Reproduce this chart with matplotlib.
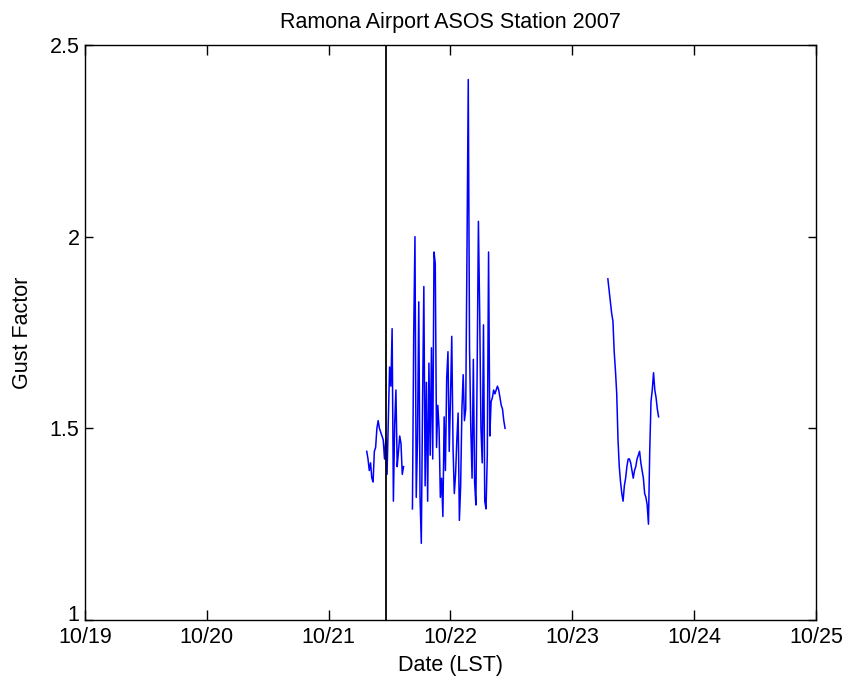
import numpy as np
import matplotlib
matplotlib.use("Agg")
import matplotlib.pyplot as plt
import matplotlib.dates as mdates
import matplotlib.transforms as mtransforms
from datetime import datetime, timedelta

plt.rcParams['font.family'] = ['Liberation Sans', 'DejaVu Sans']

# Gust factor, 15-minute samples (NaN = missing report)
start_1 = datetime(2007, 10, 21, 7, 30)
gust_1 = [
    1.44, 1.42, 1.39, 1.41, 1.37, 1.36, 1.44, 1.45, 1.50, 1.52,
    1.50, 1.49, 1.48, 1.47, 1.42, 1.47, 1.38, 1.52, 1.66, 1.61,
    1.76, 1.31, 1.51, 1.60, 1.40, 1.44, 1.48, 1.46, 1.38, 1.40,
    np.nan, np.nan, np.nan, np.nan, np.nan, np.nan,
    1.29, 1.74, 2.00, 1.32, 1.47, 1.83, 1.32, 1.20, 1.57, 1.87,
    1.35, 1.62, 1.31, 1.67, 1.43, 1.71, 1.42, 1.96, 1.93, 1.45,
    1.56, 1.50, 1.32, 1.37, 1.27, 1.53, 1.39, 1.63, 1.70, 1.44,
    1.58, 1.74, 1.45, 1.33, 1.38, 1.47, 1.54, 1.26, 1.35, 1.55,
    1.64, 1.52, 1.55, 1.96, 2.41, 1.71, 1.50, 1.37, 1.68, 1.36,
    1.30, 1.65, 2.04, 1.80, 1.50, 1.41, 1.77, 1.31, 1.29, 1.43,
    1.96, 1.48, 1.57, 1.58, 1.60, 1.59, 1.60, 1.61, 1.60, 1.58,
    1.56, 1.55, 1.52, 1.50,
]

start_2 = datetime(2007, 10, 23, 7, 0)
gust_2 = [
    1.89, 1.86, 1.83, 1.80, 1.78, 1.70, 1.65, 1.59, 1.47, 1.40,
    1.36, 1.33, 1.31, 1.35, 1.37, 1.40, 1.42, 1.42, 1.41, 1.39,
    1.37, 1.39, 1.40, 1.42, 1.43, 1.44, 1.41, 1.39, 1.37, 1.33,
    1.32, 1.30, 1.25, 1.44, 1.57, 1.60, 1.645, 1.60, 1.58, 1.55,
    1.53,
]

step = timedelta(minutes=15)
times_1 = [start_1 + i * step for i in range(len(gust_1))]
times_2 = [start_2 + i * step for i in range(len(gust_2))]

marker_time = datetime(2007, 10, 21, 11, 15)

x_start = datetime(2007, 10, 19)
x_end = datetime(2007, 10, 25)
y_ticks = [1, 1.5, 2, 2.5]
y_tick_labels = ['1', '1.5', '2', '2.5']

fig = plt.figure(figsize=(8.46, 6.87), dpi=100)
ax = fig.add_axes([0.1005, 0.0975, 0.864, 0.837])

ax.plot(times_1, gust_1, color='#0000ff', lw=1.1)
ax.plot(times_2, gust_2, color='#0000ff', lw=1.1)
ax.axvline(marker_time, color='black', lw=1.3)

ax.set_xlim(x_start, x_end)
ax.set_ylim(1, 2.5)
ax.xaxis.set_major_locator(mdates.DayLocator())
ax.xaxis.set_major_formatter(mdates.DateFormatter('%m/%d'))
ax.set_yticks(y_ticks)
ax.set_yticklabels(y_tick_labels)

ax.tick_params(axis='x', direction='in', length=7, width=1.0, top=True,
               labelsize=15.5, pad=5)
ax.tick_params(axis='y', direction='in', length=6, width=1.0, right=True,
               labelsize=15.5, pad=4)
for sp in ax.spines.values():
    sp.set_linewidth(1.0)

# lift the lowest y label a little so it clears the first date label
lift = mtransforms.ScaledTranslation(0, 5 / 72, fig.dpi_scale_trans)
lowest = ax.get_yticklabels()[0]
lowest.set_transform(lowest.get_transform() + lift)

ax.set_title('Ramona Airport ASOS Station 2007', fontsize=15.5, pad=12)
ax.set_xlabel('Date (LST)', fontsize=15.5, labelpad=5)
ax.set_ylabel('Gust Factor', fontsize=15.5, labelpad=12)

fig.savefig('out.png', dpi=100)
